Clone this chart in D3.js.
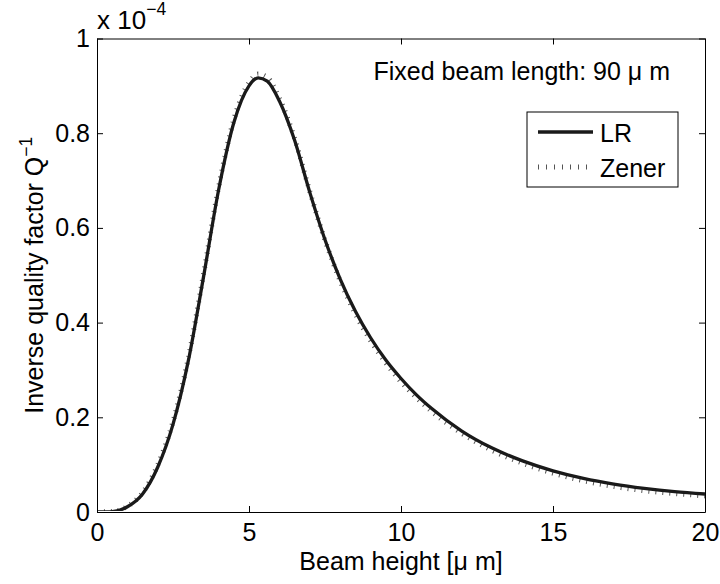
<!DOCTYPE html>
<html>
<head>
<meta charset="utf-8">
<script src="https://cdn.jsdelivr.net/npm/d3@7"></script>
<style>
  html, body { margin: 0; padding: 0; background: #fff; }
  svg { display: block; font-family: "Liberation Sans", Arial, Helvetica, sans-serif; }
</style>
</head>
<body>
<svg id="chart" width="720" height="584"></svg>
<script>
// Beam height in micrometres
const beamHeight = [0, 0.5, 1.0, 1.5, 2.0, 2.5, 3.0, 3.5, 4.0, 4.5, 5.0, 5.3, 5.6, 6.0, 6.5, 7.0, 7.5, 8.0, 8.5, 9.0, 9.5, 10, 10.5, 11, 12, 13, 14, 15, 16, 17, 18, 19, 20];
// Inverse quality factor (units of 1e-4), Lifshitz–Roukes model
const qLR = [0, 0.001, 0.011, 0.038, 0.095, 0.185, 0.318, 0.495, 0.680, 0.822, 0.900, 0.917, 0.910, 0.868, 0.785, 0.675, 0.575, 0.492, 0.424, 0.368, 0.321, 0.282, 0.248, 0.219, 0.171, 0.135, 0.108, 0.087, 0.071, 0.059, 0.050, 0.043, 0.038];
// Inverse quality factor (units of 1e-4), Zener model
const qZener = [0, 0.001, 0.012, 0.041, 0.100, 0.191, 0.324, 0.501, 0.686, 0.829, 0.907, 0.925, 0.918, 0.874, 0.789, 0.677, 0.574, 0.488, 0.418, 0.362, 0.315, 0.275, 0.242, 0.213, 0.166, 0.130, 0.103, 0.082, 0.066, 0.054, 0.045, 0.039, 0.034];

const xTicks = [0, 5, 10, 15, 20];
const yTicks = [0, 0.2, 0.4, 0.6, 0.8, 1];
const yTickLabels = ["0", "0.2", "0.4", "0.6", "0.8", "1"];
const seriesNames = ["LR", "Zener"];

const svg = d3.select("#chart");
const plotLeft = 97, plotRight = 705, plotTop = 38.5, plotBottom = 512;

const x = d3.scaleLinear().domain([0, 20]).range([plotLeft, plotRight]);
const y = d3.scaleLinear().domain([0, 1]).range([plotBottom, plotTop]);

const fontSize = 25;
const supSize = 17.5;
const tickLen = 6;

// Plot box background
svg.append("rect")
  .attr("x", plotLeft).attr("y", plotTop)
  .attr("width", plotRight - plotLeft).attr("height", plotBottom - plotTop)
  .attr("fill", "#fff");

// Clip the curves to the plot area (with a little headroom at the top)
svg.append("clipPath").attr("id", "plotclip")
  .append("rect").attr("x", plotLeft).attr("y", plotTop - 10)
  .attr("width", plotRight - plotLeft).attr("height", plotBottom - plotTop + 9);

const line = vals => d3.line()
  .x((d, i) => x(beamHeight[i]))
  .y(d => y(d))
  .curve(d3.curveMonotoneX)(vals);

// Curves (Zener underneath, LR on top)
const plot = svg.append("g").attr("clip-path", "url(#plotclip)");
plot.append("path")
  .attr("d", line(qZener))
  .attr("fill", "none")
  .attr("stroke", "#555")
  .attr("stroke-width", 5)
  .attr("stroke-dasharray", "1,6");
plot.append("path")
  .attr("d", line(qLR))
  .attr("fill", "none")
  .attr("stroke", "#1a1a1a")
  .attr("stroke-width", 3.3)
  .attr("stroke-linejoin", "round");

// Axes with inward ticks on all four sides
const xAxisB = d3.axisBottom(x).tickValues(xTicks).tickSizeInner(-tickLen).tickSizeOuter(0).tickPadding(11);
const xAxisT = d3.axisTop(x).tickValues(xTicks).tickSizeInner(-tickLen).tickSizeOuter(0).tickFormat("");
const yAxisL = d3.axisLeft(y).tickValues(yTicks).tickSizeInner(-tickLen).tickSizeOuter(0).tickPadding(7)
  .tickFormat((d, i) => yTickLabels[i]);
const yAxisR = d3.axisRight(y).tickValues(yTicks).tickSizeInner(-tickLen).tickSizeOuter(0).tickFormat("");

function styleAxis(g) {
  g.selectAll("path").attr("stroke", "#000").attr("stroke-width", 1);
  g.selectAll("line").attr("stroke", "#000").attr("stroke-width", 1);
  g.selectAll("text").attr("fill", "#000").attr("font-size", fontSize)
    .attr("font-family", "Liberation Sans, Arial, sans-serif");
}

svg.append("g").attr("transform", `translate(0,${plotBottom})`).call(xAxisB).call(styleAxis);
svg.append("g").attr("transform", `translate(0,${plotTop})`).call(xAxisT).call(styleAxis);
svg.append("g").attr("transform", `translate(${plotLeft},0)`).call(yAxisL).call(styleAxis);
svg.append("g").attr("transform", `translate(${plotRight},0)`).call(yAxisR).call(styleAxis);

// Exponent multiplier above the y axis
const mult = svg.append("text")
  .attr("x", plotLeft).attr("y", 29)
  .attr("font-size", fontSize + 1).attr("fill", "#000");
mult.append("tspan").text("x 10");
mult.append("tspan").attr("font-size", supSize).attr("dy", -14).text("\u22124");

// Axis titles
svg.append("text")
  .attr("x", (plotLeft + plotRight) / 2).attr("y", 570)
  .attr("text-anchor", "middle")
  .attr("font-size", fontSize).attr("fill", "#000")
  .text("Beam height [\u03bc m]");

const yt = svg.append("text")
  .attr("transform", `translate(43,${(plotTop + plotBottom) / 2}) rotate(-90)`)
  .attr("text-anchor", "middle")
  .attr("font-size", fontSize).attr("fill", "#000");
yt.append("tspan").text("Inverse quality factor Q");
yt.append("tspan").attr("font-size", supSize).attr("dy", -11).text("\u22121");

// Annotation
svg.append("text")
  .attr("x", 670).attr("y", 80)
  .attr("text-anchor", "end")
  .attr("font-size", fontSize).attr("fill", "#000")
  .text("Fixed beam length: 90 \u03bc m");

// Legend
const lg = svg.append("g");
lg.append("rect")
  .attr("x", 527).attr("y", 112).attr("width", 151).attr("height", 75)
  .attr("fill", "#fff").attr("stroke", "#000").attr("stroke-width", 1);
const legendY = [132, 167];
lg.append("line")
  .attr("x1", 538).attr("x2", 593).attr("y1", legendY[0]).attr("y2", legendY[0])
  .attr("stroke", "#1a1a1a").attr("stroke-width", 3.3);
lg.append("line")
  .attr("x1", 538).attr("x2", 593).attr("y1", legendY[1]).attr("y2", legendY[1])
  .attr("stroke", "#555").attr("stroke-width", 5).attr("stroke-dasharray", "1,7");
seriesNames.forEach((name, i) => {
  lg.append("text")
    .attr("x", 600).attr("y", legendY[i] + 9.5)
    .attr("font-size", fontSize).attr("fill", "#000")
    .text(name);
});
</script>
</body>
</html>
